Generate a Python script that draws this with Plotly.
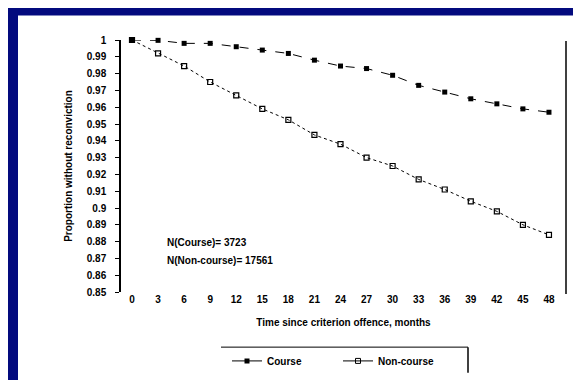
import plotly.graph_objects as go

months = [0, 3, 6, 9, 12, 15, 18, 21, 24, 27, 30, 33, 36, 39, 42, 45, 48]
course = [1.0, 0.9998, 0.998, 0.998, 0.996, 0.994, 0.992, 0.988, 0.9845, 0.983,
          0.979, 0.973, 0.969, 0.965, 0.962, 0.959, 0.957]
non_course = [1.0, 0.992, 0.9845, 0.975, 0.967, 0.959, 0.9525, 0.9435, 0.938, 0.93,
              0.925, 0.917, 0.911, 0.904, 0.898, 0.89, 0.884]
y_ticks = [1.0, 0.99, 0.98, 0.97, 0.96, 0.95, 0.94, 0.93, 0.92, 0.91, 0.9,
           0.89, 0.88, 0.87, 0.86, 0.85]
y_labels = ["1", "0.99", "0.98", "0.97", "0.96", "0.95", "0.94", "0.93", "0.92",
            "0.91", "0.9", "0.89", "0.88", "0.87", "0.86", "0.85"]
n_course_text = "N(Course)= 3723"
n_noncourse_text = "N(Non-course)= 17561"

FONT = "Liberation Sans, Arial, sans-serif"
NAVY = "#030a7e"

fig = go.Figure()
fig.add_trace(go.Scatter(
    x=months, y=course, mode="lines+markers", name="Course", showlegend=False,
    line=dict(color="black", width=1, dash="dash"),
    marker=dict(symbol="square", size=5, color="black"), cliponaxis=False))
fig.add_trace(go.Scatter(
    x=months, y=non_course, mode="lines+markers", name="Non-course", showlegend=False,
    line=dict(color="black", width=1, dash="dot"),
    marker=dict(symbol="square-open", size=5, color="black", line=dict(width=1.2)),
    cliponaxis=False))
# legend entries (solid symbol lines as in the reference legend)
fig.add_trace(go.Scatter(x=[None], y=[None], mode="lines+markers", name="Course",
                         line=dict(color="black", width=1),
                         marker=dict(symbol="square", size=5, color="black")))
fig.add_trace(go.Scatter(x=[None], y=[None], mode="lines+markers", name="Non-course",
                         line=dict(color="black", width=1),
                         marker=dict(symbol="square-open", size=5, color="black")))

def px_x(p):
    return (p - 113) / 445.0

def px_y(p):
    return (288 - p) / 256.0

shapes = [
    dict(type="rect", xref="paper", yref="paper", x0=px_x(10), x1=px_x(581),
         y0=px_y(380), y1=px_y(7), fillcolor="white", line=dict(width=0), layer="below"),
    dict(type="line", xref="paper", yref="paper", x0=px_x(558), x1=px_x(558),
         y0=px_y(290), y1=px_y(33), line=dict(color="black", width=1.5)),
    dict(type="line", xref="paper", yref="paper", x0=px_x(213), x1=px_x(460),
         y0=px_y(344), y1=px_y(344), line=dict(color="black", width=1)),
    dict(type="line", xref="paper", yref="paper", x0=px_x(460), x1=px_x(460),
         y0=px_y(344), y1=px_y(370), line=dict(color="black", width=1.5)),
]

annotations = [
    dict(text=n_course_text, xref="paper", yref="paper", x=px_x(157), y=px_y(238),
         xanchor="left", yanchor="middle", showarrow=False,
         font=dict(family=FONT, size=10, color="black", weight="bold")),
    dict(text=n_noncourse_text, xref="paper", yref="paper", x=px_x(157), y=px_y(256),
         xanchor="left", yanchor="middle", showarrow=False,
         font=dict(family=FONT, size=10, color="black", weight="bold")),
]

fig.update_layout(
    width=581, height=380,
    margin=dict(l=113, r=23, t=32, b=92),
    paper_bgcolor=NAVY, plot_bgcolor="rgba(0,0,0,0)",
    font=dict(family=FONT, color="black"),
    shapes=shapes, annotations=annotations,
    legend=dict(orientation="h", x=px_x(219), y=px_y(358), xanchor="left",
                yanchor="middle", bgcolor="rgba(0,0,0,0)",
                font=dict(family=FONT, size=10, color="black", weight="bold"),
                entrywidth=66, itemwidth=30),
    xaxis=dict(range=[-1.266, 49.96], tickmode="array", tickvals=months,
               ticktext=[str(m) for m in months], showgrid=False, zeroline=False,
               showline=False, ticks="",
               tickfont=dict(family=FONT, size=10, color="black", weight="bold"),
               title=dict(text="Time since criterion offence, months", standoff=14,
                          font=dict(family=FONT, size=10, color="black", weight="bold"))),
    yaxis=dict(range=[0.85, 1.0], tickmode="array", tickvals=y_ticks, ticktext=y_labels,
               showgrid=False, zeroline=False, showline=True, linecolor="black",
               linewidth=1.5, ticks="outside", ticklen=4, tickcolor="black",
               ticklabelstandoff=7,
               tickfont=dict(family=FONT, size=10, color="black", weight="bold"),
               title=dict(text="Proportion without reconviction", standoff=12,
                          font=dict(family=FONT, size=10, color="black", weight="bold"))),
)

fig.write_html("out.html")
